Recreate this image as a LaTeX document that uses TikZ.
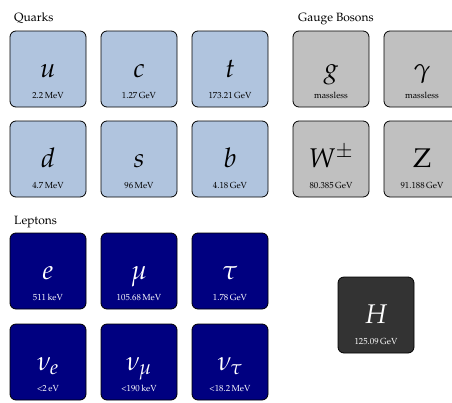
\documentclass[tikz,border=0pt]{standalone}
\usepackage[T1]{fontenc}
\usepackage{mathpazo}
\definecolor{quarkc}{HTML}{B0C4DE}
\definecolor{bosonc}{HTML}{C0C0C0}
\definecolor{leptonc}{HTML}{000080}
\definecolor{higgsc}{HTML}{333333}
\newcommand\pbox[7]{%
  \node[#4] (#1) at (#2,#3) {};
  \node[sym, text=#7] (#1-s) at ([yshift=-8pt]#1.center) {$#5$};
  \node[mass, text=#7] (#1-m) at ([yshift=-29pt]#1.center) {#6};
}
\begin{document}
\begin{tikzpicture}[x=1pt,y=-1pt,
  particle/.style={draw=black, line width=0.8pt, rounded corners=6pt,
    minimum width=76pt, minimum height=76pt, inner sep=0pt},
  quark/.style={particle, fill=quarkc},
  boson/.style={particle, fill=bosonc},
  lepton/.style={particle, fill=leptonc},
  higgs/.style={particle, fill=higgsc},
  sym/.style={font=\fontsize{27}{27}\selectfont, anchor=base, inner sep=0pt},
  mass/.style={font=\fontsize{8.8}{8.8}\selectfont, anchor=base, inner sep=0pt},
  grouplabel/.style={font=\fontsize{12}{12}\selectfont, anchor=base west, inner sep=0pt}]
\useasboundingbox (0,0) rectangle (452,402);
\node[grouplabel] (lq) at (14,21) {Quarks};
\node[grouplabel] (lb) at (298,21) {Gauge Bosons};
\node[grouplabel] (ll) at (14,224) {Leptons};
% quarks
\pbox{u}{48}{69}{quark}{u}{2.2\,MeV}{black}
\pbox{c}{139}{69}{quark}{c}{1.27\,GeV}{black}
\pbox{t}{230}{69}{quark}{t}{173.21\,GeV}{black}
\pbox{d}{48}{159}{quark}{d}{4.7\,MeV}{black}
\pbox{s}{139}{159}{quark}{s}{96\,MeV}{black}
\pbox{b}{230}{159}{quark}{b}{4.18\,GeV}{black}
% bosons
\pbox{g}{331}{69}{boson}{g}{massless}{black}
\pbox{gam}{422}{69}{boson}{\gamma}{massless}{black}
\pbox{W}{331}{159}{boson}{W^{\pm}}{80.385\,GeV}{black}
\pbox{Z}{422}{159}{boson}{\mathrm{Z}}{91.188\,GeV}{black}
% leptons
\pbox{e}{48}{271}{lepton}{e}{511\,keV}{white}
\pbox{mu}{139}{271}{lepton}{\mu}{105.68\,MeV}{white}
\pbox{tau}{230}{271}{lepton}{\tau}{1.78\,GeV}{white}
\pbox{ne}{48}{362}{lepton}{\nu_e}{<2\,eV}{white}
\pbox{nm}{139}{362}{lepton}{\nu_\mu}{<190\,keV}{white}
\pbox{nt}{230}{362}{lepton}{\nu_\tau}{<18.2\,MeV}{white}
% higgs
\pbox{H}{376}{315}{higgs}{H}{125.09\,GeV}{white}
\end{tikzpicture}
\end{document}
